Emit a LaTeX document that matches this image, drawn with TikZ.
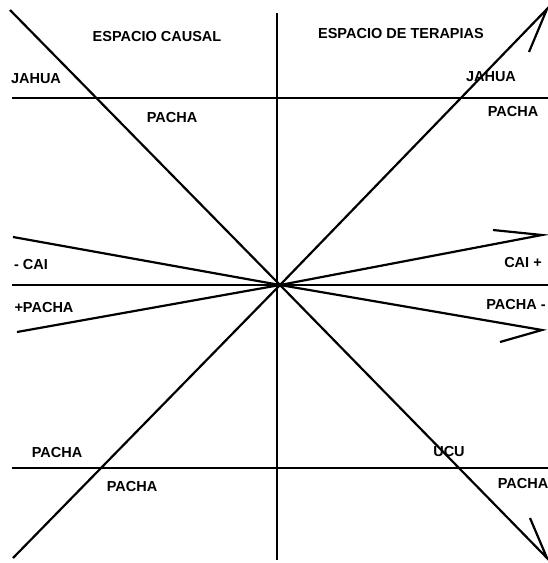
\documentclass[tikz,border=0pt]{standalone}
\usepackage{fontspec}
\setmainfont{Liberation Sans}
\begin{document}
\begin{tikzpicture}[x=1pt, y=-1pt,
    axis/.style={line width=1.7pt},
    ray/.style={line width=2.2pt, line join=miter},
    lbl/.style={font=\fontsize{14.5}{16}\selectfont\bfseries, inner sep=0pt}
]
    \useasboundingbox (0,0) rectangle (548,563);

    \coordinate (o)   at (280,285);
    \coordinate (vt)  at (277,13);
    \coordinate (vb)  at (277,560);
    \coordinate (tl)  at (12,98);
    \coordinate (tr)  at (548,98);
    \coordinate (ml)  at (12,285);
    \coordinate (mr)  at (548,285);
    \coordinate (bl)  at (12,468);
    \coordinate (br)  at (548,468);

    \draw[axis] (vt) -- (vb);
    \draw[axis] (tl) -- (tr);
    \draw[axis] (ml) -- (mr);
    \draw[axis] (bl) -- (br);

    \coordinate (jahuaIn)  at (10,10);
    \coordinate (pachaIn)  at (13,558);
    \coordinate (caiIn)    at (13,237);
    \coordinate (pachaIn2) at (17,332);
    \coordinate (jahuaOut) at (547,9);
    \coordinate (jahuaBarb) at (529,52);
    \coordinate (caiOut)   at (542,235);
    \coordinate (caiBarb)  at (493,230);
    \coordinate (pachaOut) at (542,330);
    \coordinate (pachaBarb) at (500,342);
    \coordinate (ucuOut)   at (547,558);
    \coordinate (ucuBarb)  at (530,518);

    \draw[ray] (jahuaIn)  -- (o);
    \draw[ray] (pachaIn)  -- (o);
    \draw[ray] (caiIn)    -- (o);
    \draw[ray] (pachaIn2) -- (o);
    \draw[ray] (o) -- (jahuaOut) -- (jahuaBarb);
    \draw[ray] (o) -- (caiOut)   -- (caiBarb);
    \draw[ray] (o) -- (pachaOut) -- (pachaBarb);
    \draw[ray] (o) -- (ucuOut)   -- (ucuBarb);

    \node[lbl] (causal)   at (157,37)  {ESPACIO CAUSAL};
    \node[lbl] (terapias) at (401,34)  {ESPACIO DE TERAPIAS};
    \node[lbl] (jahuaL)   at (36,79)   {JAHUA};
    \node[lbl] (pachaTL)  at (172,118) {PACHA};
    \node[lbl] (jahuaR)   at (491,77)  {JAHUA};
    \node[lbl] (pachaTR)  at (513,112) {PACHA};
    \node[lbl] (caiL)     at (31,265)  {- CAI};
    \node[lbl] (pachaML)  at (44,308)  {+PACHA};
    \node[lbl] (caiR)     at (523,263) {CAI +};
    \node[lbl] (pachaMR)  at (516,305) {PACHA -};
    \node[lbl] (pachaBL)  at (57,453)  {PACHA};
    \node[lbl] (pachaBL2) at (132,487) {PACHA};
    \node[lbl] (ucu)      at (449,452) {UCU};
    \node[lbl] (pachaBR)  at (523,484) {PACHA};
\end{tikzpicture}
\end{document}
